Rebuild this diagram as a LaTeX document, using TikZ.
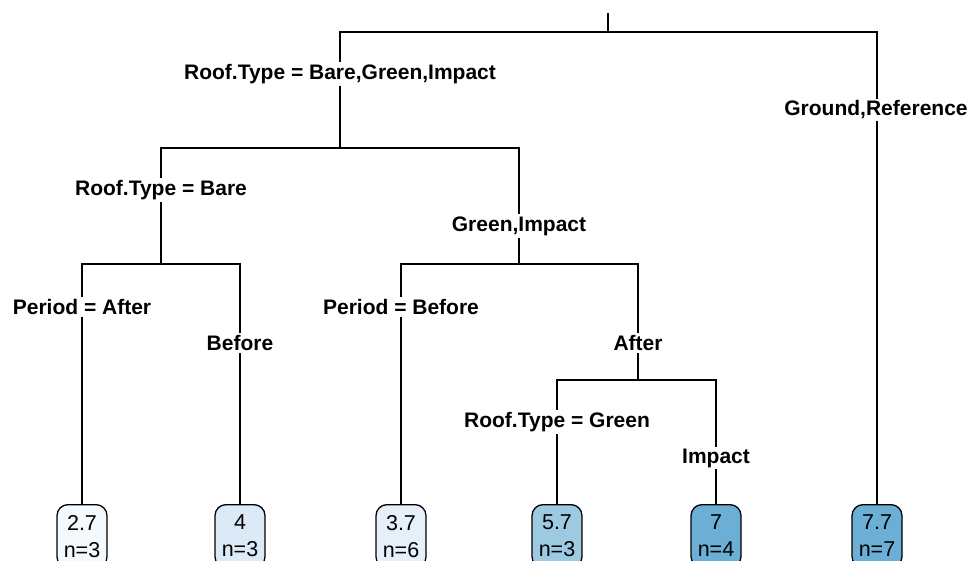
\documentclass[tikz,border=0pt]{standalone}
\usepackage{fontspec}
\setmainfont{Liberation Sans}
\definecolor{c1}{HTML}{F4F9FE}
\definecolor{c2}{HTML}{DCE9F6}
\definecolor{c3}{HTML}{E6F0FA}
\definecolor{c4}{HTML}{9DCAE1}
\definecolor{c5}{HTML}{6BAED6}
\definecolor{c6}{HTML}{6BAED6}
\tikzset{
  edge/.style={draw=black, line width=1.4pt},
  lbl/.style={fill=white, inner sep=2pt, font=\fontsize{21}{24}\selectfont\bfseries},
  leaf/.style={draw=black, line width=1.3pt, rounded corners=11pt, minimum width=50pt,
    anchor=north, align=center, inner xsep=0pt, inner ysep=10.5pt,
    font=\fontsize{21.5}{27}\selectfont}
}
\begin{document}
\begin{tikzpicture}[x=1pt,y=-1pt]
\useasboundingbox (0,0) rectangle (979,561);
\clip (0,0) rectangle (979,561);
% junctions
\coordinate (top) at (608,13);
\coordinate (j0) at (608,32);
\coordinate (j1) at (340,148);
\coordinate (j2) at (161,264);
\coordinate (j3) at (519,264);
\coordinate (j4) at (638,380);
% leaves
\node[leaf, fill=c1] (L1) at (82,504) {2.7\\n=3};
\node[leaf, fill=c2] (L2) at (240,504) {4\\n=3};
\node[leaf, fill=c3] (L3) at (401,504) {3.7\\n=6};
\node[leaf, fill=c4] (L4) at (557,504) {5.7\\n=3};
\node[leaf, fill=c5] (L5) at (716,504) {7\\n=4};
\node[leaf, fill=c6] (L6) at (877,504) {7.7\\n=7};
% connectors
\draw[edge] (top) -- (j0);
\draw[edge] (j1) |- (j0) -| (L6.north);
\draw[edge] (j2) |- (j1) -| (j3);
\draw[edge] (L1.north) |- (j2) -| (L2.north);
\draw[edge] (L3.north) |- (j3) -| (j4);
\draw[edge] (L4.north) |- (j4) -| (L5.north);
% labels
\node[lbl] (t1) at (340,74) {Roof.Type = Bare,Green,Impact};
\node[lbl] (t2) at (876,110) {Ground,Reference};
\node[lbl] (t3) at (161,190) {Roof.Type = Bare};
\node[lbl] (t4) at (519,226) {Green,Impact};
\node[lbl] (t5) at (82,307) {Period = After};
\node[lbl] (t6) at (240,343) {Before};
\node[lbl] (t7) at (401,307) {Period = Before};
\node[lbl] (t8) at (638,343) {After};
\node[lbl] (t9) at (557,422) {Roof.Type = Green};
\node[lbl] (t10) at (716,458) {Impact};
\end{tikzpicture}
\end{document}
